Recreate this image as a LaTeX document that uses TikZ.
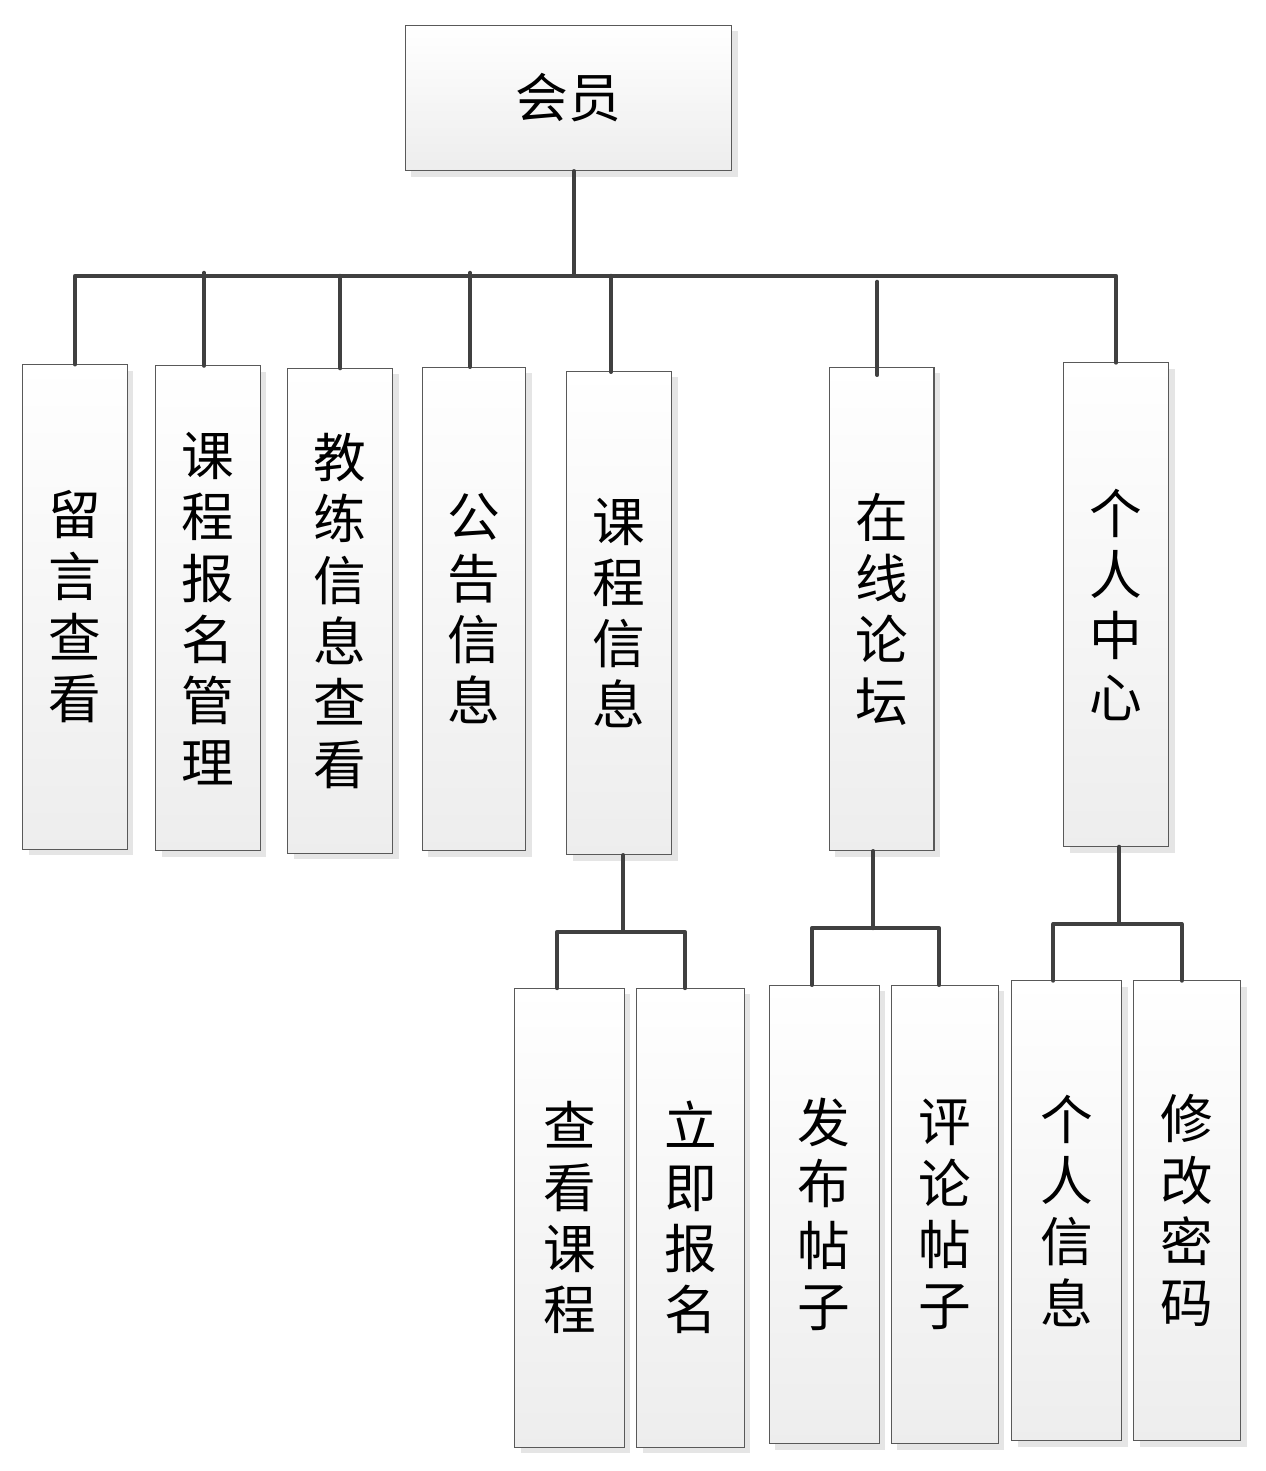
\documentclass[tikz,border=0pt]{standalone}
\usepackage{fontspec}
\newfontfamily\cjk{Noto Sans CJK SC}
\usetikzlibrary{shadows}
\tikzset{
  box/.style={draw=black!65, line width=0.57pt, top color=white, bottom color=black!7,
    inner sep=0pt, outer sep=0pt, align=center,
    font=\cjk\fontsize{30}{34.9}\selectfont,
    drop shadow={shadow xshift=0.12cm, shadow yshift=-0.12cm, fill=black!10, opacity=1}},
  conn/.style={draw=black!75, line width=2.2pt, line cap=round, line join=round}
}
\begin{document}
\begin{tikzpicture}[x=0.02cm, y=-0.02cm]
\useasboundingbox (0,0) rectangle (1266,1471);
% top
\node[box, minimum width=6.54cm, minimum height=2.92cm] (top) at (568.5,98) {会员};
% level 2
\node[box, minimum width=2.1cm, minimum height=9.7cm] (b1) at (75,607) {留\\言\\查\\看};
\node[box, minimum width=2.1cm, minimum height=9.7cm] (b2) at (208,608.3) {课\\程\\报\\名\\管\\理};
\node[box, minimum width=2.1cm, minimum height=9.7cm] (b3) at (340.3,610.8) {教\\练\\信\\息\\查\\看};
\node[box, minimum width=2.08cm, minimum height=9.68cm] (b4) at (474,609) {公\\告\\信\\息};
\node[box, minimum width=2.1cm, minimum height=9.68cm] (b5) at (619.2,613) {课\\程\\信\\息};
\node[box, minimum width=2.1cm, minimum height=9.68cm] (b6) at (881.5,609) {在\\线\\论\\坛};
\node[box, minimum width=2.1cm, minimum height=9.68cm] (b7) at (1116,604.7) {个\\人\\中\\心};
% level 3
\node[box, minimum width=2.2cm, minimum height=9.18cm] (c1) at (569.5,1217.7) {查\\看\\课\\程};
\node[box, minimum width=2.16cm, minimum height=9.18cm] (c2) at (690.5,1217.7) {立\\即\\报\\名};
\node[box, minimum width=2.2cm, minimum height=9.18cm] (c3) at (824.2,1214.5) {发\\布\\帖\\子};
\node[box, minimum width=2.14cm, minimum height=9.18cm] (c4) at (944.7,1214.5) {评\\论\\帖\\子};
\node[box, minimum width=2.2cm, minimum height=9.2cm] (c5) at (1066.6,1210.7) {个\\人\\信\\息};
\node[box, minimum width=2.14cm, minimum height=9.2cm] (c6) at (1187,1210.7) {修\\改\\密\\码};
% bus
\coordinate (bus) at (574,275.7);
\draw[conn] (top.south -| bus) -- (bus);
\draw[conn] (b1.north) |- (bus) -| (b7.north);
\coordinate (t2) at (204,272.7);
\coordinate (t3) at (340.3,275.7);
\coordinate (t4) at (470,272.7);
\coordinate (t5) at (611,275.7);
\coordinate (t6) at (877.3,281.7);
\draw[conn] (t2) -- (b2.north -| t2);
\draw[conn] (t3) -- (b3.north -| t3);
\draw[conn] (t4) -- (b4.north -| t4);
\draw[conn] (t5) -- ([yshift=-0.02cm]b5.north -| t5);
\draw[conn] (t6) -- ([yshift=-0.16cm]b6.north -| t6);
% level 3 connectors
\coordinate (j5) at (623.3,931.7);
\coordinate (l5) at (557.3,0);
\coordinate (r5) at (685,0);
\draw[conn] (b5.south -| j5) -- (j5);
\draw[conn] (c1.north -| l5) |- (j5) -| (c2.north -| r5);
\coordinate (j6) at (873.3,928.3);
\coordinate (l6) at (811.7,0);
\coordinate (r6) at (939.3,0);
\draw[conn] (b6.south -| j6) -- (j6);
\draw[conn] (c3.north -| l6) |- (j6) -| (c4.north -| r6);
\coordinate (j7) at (1119.3,924);
\coordinate (l7) at (1053.3,0);
\coordinate (r7) at (1181.7,0);
\draw[conn] (b7.south -| j7) -- (j7);
\draw[conn] (c5.north -| l7) |- (j7) -| (c6.north -| r7);
\end{tikzpicture}
\end{document}
